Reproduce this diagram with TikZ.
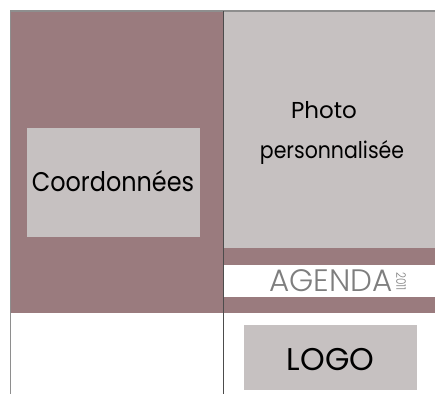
\documentclass[tikz,border=0pt]{standalone}
\usepackage{fontspec}
\setmainfont{Poppins}
\newfontfamily\thinfont{Poppins}[UprightFont=* Light]
\definecolor{mauve}{HTML}{9A7B7E}
\definecolor{pale}{HTML}{C6C1C1}
\definecolor{rule}{HTML}{8E8E8E}
\definecolor{agendagrey}{HTML}{7E7E7E}
\begin{document}
\begin{tikzpicture}[x=1pt,y=-1pt,
  box/.style={fill=pale,draw=none,inner sep=0pt},
  label/.style={text=black,align=center,inner sep=0pt,anchor=base}]
\useasboundingbox (0,0) rectangle (435,394);
% panels
\fill[mauve] (10,11) rectangle (223,313);
\fill[pale] (223,11) rectangle (435,248);
\fill[mauve] (223,248) rectangle (435,265);
\fill[white] (223,265) rectangle (435,297);
\fill[mauve] (223,297) rectangle (435,313);
% boxes
\node[box,minimum width=173pt,minimum height=109pt] (coord) at (113.5,182.5) {};
\node[label,font=\fontsize{27}{30}\selectfont\addfontfeatures{FakeStretch=0.886}] (coordtxt) at (113,191.7) {Coordonnées};
\node[label,font=\fontsize{23}{26}\selectfont] (phototxt) at (324,118) {Photo};
\node[label,font=\fontsize{23}{26}\selectfont\addfontfeatures{FakeStretch=0.89}] (perstxt) at (332,158) {personnalisée};
\node[label,text=agendagrey,font=\thinfont\fontsize{31}{32}\selectfont] (agenda) at (331,291.7) {AGENDA};
\node[inner sep=0pt,text=agendagrey,rotate=-90,font=\thinfont\fontsize{13}{14}\selectfont\addfontfeatures{FakeStretch=0.8}] (year) at (401,281.5) {2011};
\node[box,minimum width=173pt,minimum height=65pt] (logo) at (330.5,357.5) {};
\node[label,font=\fontsize{31.4}{32}\selectfont] (logotxt) at (330.5,370) {LOGO};
% rules
\draw[rule,line width=1.2pt] (10,11) -- (435,11);
\draw[rule,line width=0.9pt] (10,11) -- (10,394);
\draw[black!70,line width=0.8pt] (223,11) -- (223,394);
\end{tikzpicture}
\end{document}
